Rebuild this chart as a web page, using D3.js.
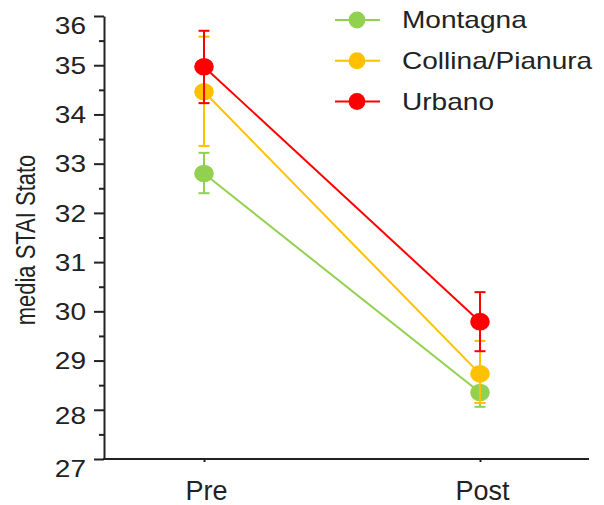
<!DOCTYPE html>
<html>
<head>
<meta charset="utf-8">
<script src="https://cdn.jsdelivr.net/npm/d3@7"></script>
<style>
  html, body { margin: 0; padding: 0; background: #fff; }
  svg { display: block; font-family: Arial, "Liberation Sans", sans-serif; }
</style>
</head>
<body>
<svg id="chart" width="604" height="505"></svg>
<script>
// ---- data ----
const categories = ["Pre", "Post"];
const seriesNames = ["Montagna", "Collina/Pianura", "Urbano"];
const montagnaMean = [32.80, 28.35];
const montagnaLow  = [32.40, 28.06];
const montagnaHigh = [33.22, 28.69];
const collinaMean  = [34.46, 28.73];
const collinaLow   = [33.36, 28.14];
const collinaHigh  = [35.58, 29.40];
const urbanoMean   = [34.97, 29.79];
const urbanoLow    = [34.23, 29.19];
const urbanoHigh   = [35.70, 30.39];
const yTicks = [27, 28, 29, 30, 31, 32, 33, 34, 35, 36];
const yMinorTicks = [27.5, 28.5, 29.5, 30.5, 31.5, 32.5, 33.5, 34.5, 35.5];
const yTitle = "media STAI Stato";

// ---- styles ----
const colors = ["#92d050", "#ffc000", "#ff0000"];
const axisColor = "#222";
const sx = 1.22; // horizontal stretch of the reference's text

const series = [
  { name: seriesNames[0], mean: montagnaMean, low: montagnaLow, high: montagnaHigh, color: colors[0] },
  { name: seriesNames[1], mean: collinaMean,  low: collinaLow,  high: collinaHigh,  color: colors[1] },
  { name: seriesNames[2], mean: urbanoMean,   low: urbanoLow,   high: urbanoHigh,   color: colors[2] }
];

const svg = d3.select("#chart");
const axisX0 = 104, axisY0 = 459, axisTop = 16, axisRight = 589;

const x = d3.scalePoint().domain(categories).range([204, 480]);
const y = d3.scaleLinear().domain([27, 36]).range([axisY0, axisTop]);

// Y axis (major)
const gy = svg.append("g").attr("transform", `translate(${axisX0},0)`)
  .call(d3.axisLeft(y).tickValues(yTicks).tickSize(10).tickSizeOuter(0).tickFormat(d3.format("d")));
gy.select(".domain").attr("stroke", axisColor).attr("stroke-width", 2);
gy.selectAll(".tick line").attr("stroke", axisColor).attr("stroke-width", 2);
const labelShift = { 36: 9, 28: 5, 27: 9 };
gy.selectAll(".tick text")
  .attr("x", 0).attr("dy", null).attr("y", d => 8.3 + (labelShift[d] || 0))
  .attr("transform", `translate(-18,0) scale(${sx},1)`)
  .attr("font-size", 23).attr("fill", axisColor)
  .attr("font-family", "Arial, 'Liberation Sans', sans-serif");

// Y axis (minor)
const gym = svg.append("g").attr("transform", `translate(${axisX0},0)`)
  .call(d3.axisLeft(y).tickValues(yMinorTicks).tickSize(5).tickSizeOuter(0).tickFormat(""));
gym.select(".domain").remove();
gym.selectAll(".tick line").attr("stroke", axisColor).attr("stroke-width", 2);

// X axis
const gx = svg.append("g").attr("transform", `translate(0,${axisY0})`)
  .call(d3.axisBottom(x).tickSize(3).tickSizeOuter(0));
gx.select(".domain").remove();
gx.append("line").attr("x1", axisX0 - 1).attr("x2", axisRight).attr("y1", 0).attr("y2", 0)
  .attr("stroke", axisColor).attr("stroke-width", 2);
gx.selectAll(".tick line").attr("stroke", axisColor).attr("stroke-width", 2);
gx.selectAll(".tick text")
  .attr("dy", null).attr("y", 41).attr("x", 2)
  .attr("font-size", 27).attr("fill", axisColor)
  .attr("font-family", "Arial, 'Liberation Sans', sans-serif");

// Y title
svg.append("text")
  .attr("transform", `translate(35,240) scale(${sx},1) rotate(-90)`)
  .attr("text-anchor", "middle")
  .attr("font-size", 22)
  .attr("fill", axisColor)
  .text(yTitle);

// Series
const line = d3.line().x((d, i) => x(categories[i])).y(d => y(d));
series.forEach(s => {
  const g = svg.append("g");
  g.append("path").datum(s.mean).attr("d", line)
    .attr("fill", "none").attr("stroke", s.color).attr("stroke-width", 2);
  g.selectAll("ellipse").data(s.mean).join("ellipse")
    .attr("cx", (d, i) => x(categories[i])).attr("cy", d => y(d))
    .attr("rx", 9.8).attr("ry", 8.8).attr("fill", s.color);
  categories.forEach((c, i) => {
    const cx = x(c);
    g.append("line").attr("x1", cx).attr("x2", cx)
      .attr("y1", y(s.low[i])).attr("y2", y(s.high[i]))
      .attr("stroke", s.color).attr("stroke-width", 2);
    [s.low[i], s.high[i]].forEach(v => {
      g.append("line").attr("x1", cx - 5.5).attr("x2", cx + 5.5)
        .attr("y1", y(v)).attr("y2", y(v))
        .attr("stroke", s.color).attr("stroke-width", 2);
    });
  });
});

// Legend
const legendRowY = d3.scalePoint().domain(seriesNames).range([20, 101.5]);
const lg = svg.append("g");
series.forEach(s => {
  const ly = legendRowY(s.name);
  lg.append("line").attr("x1", 335).attr("x2", 380).attr("y1", ly).attr("y2", ly)
    .attr("stroke", s.color).attr("stroke-width", 2);
  lg.append("circle").attr("cx", 357).attr("cy", ly).attr("r", 8.4).attr("fill", s.color);
  lg.append("text")
    .attr("transform", `translate(402,${ly + 8.3}) scale(${sx},1)`)
    .attr("font-size", 23).attr("fill", axisColor)
    .text(s.name);
});
</script>
</body>
</html>
